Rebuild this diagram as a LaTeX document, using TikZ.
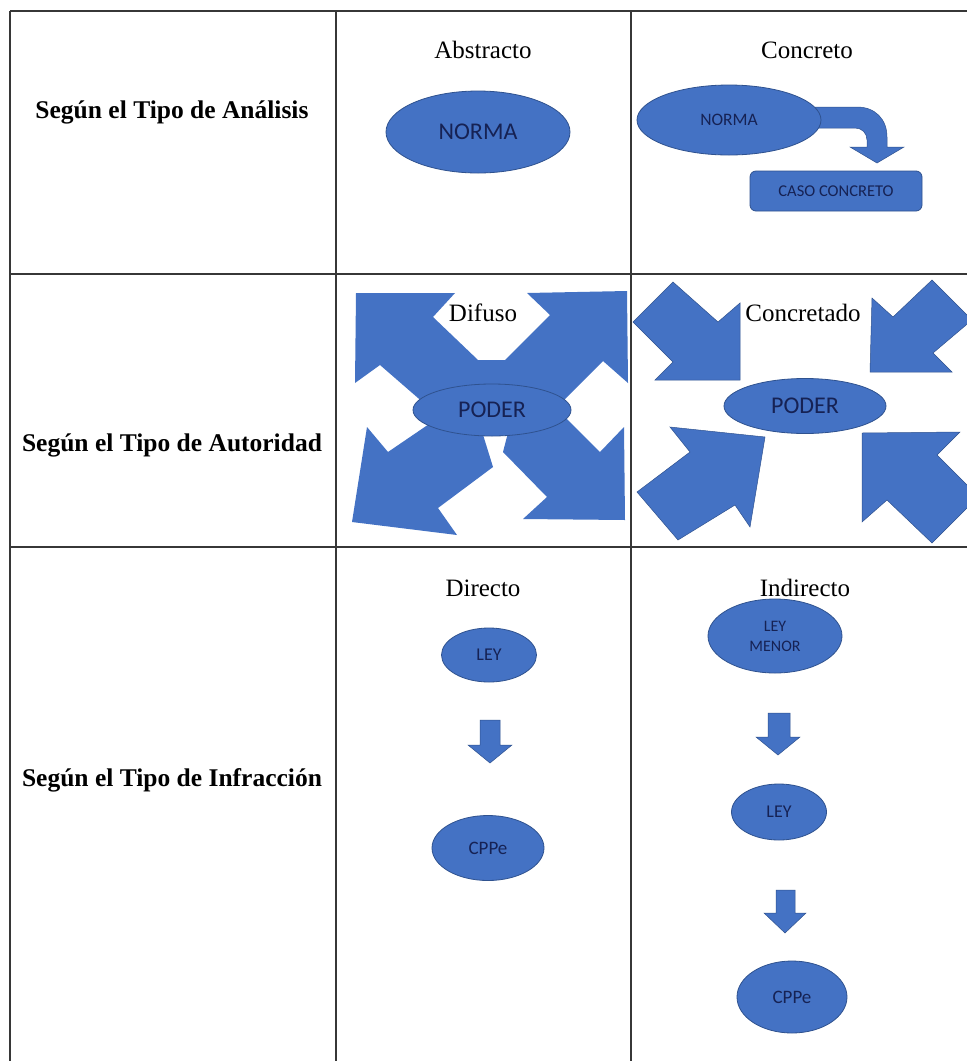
\documentclass[tikz,border=0pt]{standalone}
\usepackage{fontspec}
\setmainfont{Liberation Serif}
\newfontfamily\calib{Carlito}
\usetikzlibrary{shapes.geometric}
\definecolor{fillblue}{RGB}{68,114,196}
\definecolor{edgeblue}{RGB}{47,82,143}
\definecolor{navy}{RGB}{22,34,84}
\definecolor{gridgray}{RGB}{55,55,55}
\tikzset{
  blob/.style={ellipse, fill=fillblue, draw=edgeblue, line width=0.8pt, inner sep=0pt, text=navy},
  blockarrow/.style={fill=fillblue, draw=edgeblue, line width=0.5pt, line join=miter},
  flatarrow/.style={fill=fillblue},
  rowlabel/.style={font=\fontsize{25.5}{29}\selectfont\bfseries},
  colhead/.style={font=\fontsize{25}{29}\selectfont},
  gridline/.style={draw=gridgray, line width=2pt},
}
\begin{document}
\begin{tikzpicture}[x=1pt,y=-1pt]
\useasboundingbox (0,0) rectangle (967,1061);
\fill[white] (0,0) rectangle (967,1061);

% ---------- grid ----------
\draw[gridline] (10,11) -- (967,11);
\draw[gridline] (10,274) -- (967,274);
\draw[gridline] (10,547) -- (967,547);
\draw[gridline] (10,11) -- (10,1061);
\draw[gridline] (336,11) -- (336,1061);
\draw[gridline] (631,11) -- (631,1061);

% ---------- row labels ----------
\node[rowlabel] (r1) at (172,112) {Según el Tipo de Análisis};
\node[rowlabel] (r2) at (172,445) {Según el Tipo de Autoridad};
\node[rowlabel] (r3) at (172,780) {Según el Tipo de Infracción};

% ---------- row 1 ----------
\node[colhead] (abs) at (483,50) {Abstracto};
\node[colhead] (con) at (807,50) {Concreto};
\node[blob, minimum width=184pt, minimum height=82pt, font=\calib\fontsize{24}{28}\selectfont] (norma1) at (478,132) {NORMA};

\fill[blockarrow] (815,107) -- (857,107) .. controls (875,107) and (887,119) .. (887,137)
  -- (887,147) -- (904,147) -- (877,163) -- (850,147) -- (867,147) -- (867,140)
  .. controls (867,133) and (862,128) .. (855,128) -- (815,128) -- cycle;
\node[blob, minimum width=184pt, minimum height=70pt, font=\calib\fontsize{17.5}{20}\selectfont] (norma2) at (729,120) {NORMA};
\node[rectangle, rounded corners=6pt, fill=fillblue, draw=edgeblue, line width=0.8pt, text=navy,
  minimum width=172pt, minimum height=40pt, inner sep=0pt, font=\calib\fontsize{16.5}{19}\selectfont] (caso) at (836,191) {CASO CONCRETO};

% ---------- row 2 : Difuso ----------
\fill[flatarrow] (356,293) -- (455,293) -- (433,317) -- (478,360) -- (505,360) -- (505,410)
  -- (440,415) -- (418,398) -- (380,365) -- (355,383) -- cycle;
\fill[flatarrow] (627,291) -- (527,293) -- (550,315) -- (505,360) -- (495,412) -- (560,404)
  -- (603,361) -- (628,383) -- cycle;
\fill[flatarrow] (625,520) -- (624,427) -- (600,452) -- (562,414) -- (510,425) -- (503,452)
  -- (547,497) -- (523,519) -- cycle;
\fill[flatarrow] (352,522) -- (367,427) -- (388,452) -- (435,420) -- (480,425) -- (493,467)
  -- (438,508) -- (457,535) -- cycle;
\node[blob, minimum width=158pt, minimum height=52pt, font=\calib\fontsize{24}{28}\selectfont] (poder1) at (492,410) {PODER};
\node[colhead] (dif) at (483,313) {Difuso};

% ---------- row 2 : Concretado ----------
\begin{scope}
\clip (632,275) rectangle (967,546);
\fill[blockarrow] (740,380) -- (740,303) -- (718,322) -- (673,282) -- (633,322) -- (673,362) -- (655,380) -- cycle;
\fill[blockarrow] (870,372) -- (872,298) -- (893,317) -- (932,280) -- (972,320) -- (933,353) -- (952,372) -- cycle;
\fill[blockarrow] (765,437) -- (670,427) -- (690,452) -- (637,492) -- (678,540) -- (735,505) -- (750,527) -- cycle;
\fill[blockarrow] (862,433) -- (960,432) -- (937,455) -- (970,488) -- (970,505) -- (932,543) -- (887,500) -- (862,522) -- cycle;
\end{scope}
\node[blob, minimum width=162pt, minimum height=55pt, font=\calib\fontsize{24}{28}\selectfont] (poder2) at (805,406) {PODER};
\node[colhead] (conc) at (803,313) {Concretado};

% ---------- row 3 : Directo ----------
\node[colhead] (dir) at (483,588) {Directo};
\node[blob, minimum width=95pt, minimum height=54pt, font=\calib\fontsize{18}{21}\selectfont] (ley1) at (489,655) {LEY};
\fill[blockarrow] (480,720) -- (500,720) -- (500,745) -- (512,745) -- (490,763) -- (468,745) -- (480,745) -- cycle;
\node[blob, minimum width=112pt, minimum height=65pt, font=\calib\fontsize{19}{22}\selectfont] (cppe1) at (488,848) {CPPe};

% ---------- row 3 : Indirecto ----------
\node[colhead] (ind) at (805,588) {Indirecto};
\node[blob, minimum width=134pt, minimum height=74pt, align=center, font=\calib\fontsize{16}{20}\selectfont] (leym) at (775,636) {LEY\\MENOR};
\fill[blockarrow] (768,713) -- (790,713) -- (790,737) -- (800,737) -- (778,755) -- (756,737) -- (768,737) -- cycle;
\node[blob, minimum width=95pt, minimum height=56pt, font=\calib\fontsize{18}{21}\selectfont] (ley2) at (779,812) {LEY};
\fill[blockarrow] (776,890) -- (795,890) -- (795,913) -- (806,913) -- (785,933) -- (764,913) -- (776,913) -- cycle;
\node[blob, minimum width=110pt, minimum height=72pt, font=\calib\fontsize{19}{22}\selectfont] (cppe2) at (792,997) {CPPe};
\end{tikzpicture}
\end{document}
